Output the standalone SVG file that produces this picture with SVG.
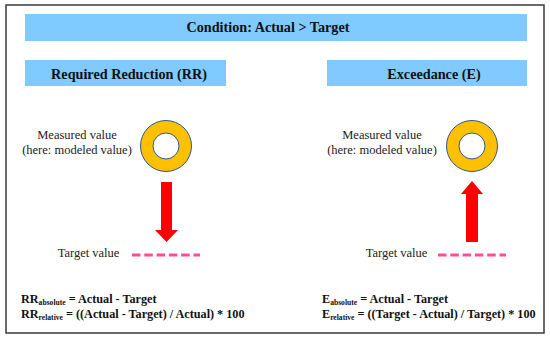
<svg xmlns="http://www.w3.org/2000/svg" width="550" height="339" viewBox="0 0 550 339">
<style>
.bar{fill:#80CAFF}
.ttl{font-family:'Liberation Serif',serif;font-weight:bold;font-size:14.2px;fill:#111;text-anchor:middle}
.lbl{font-family:'Liberation Serif',serif;font-size:12.5px;fill:#222;text-anchor:middle}
.ring{fill:#FFC000;stroke:#2F5A8A;stroke-width:1}
.hole{fill:#fff;stroke:#2F5A8A;stroke-width:1}
.arr{fill:#FF0000}
.dash{stroke:#FF4D94;stroke-width:3;stroke-dasharray:8.5 3.8;fill:none}
.f{font-family:'Liberation Serif',serif;font-weight:bold;font-size:12.2px;fill:#111}
.sub{font-size:7.6px}
</style>
<rect x="0" y="0" width="550" height="339" fill="#fff"/>
<rect x="6" y="5" width="538" height="328" fill="#fff" stroke="#3a3a3a" stroke-width="1.5"/>
<g id="condition">
<rect class="bar" x="25" y="14" width="502" height="27"/>
<text class="ttl" x="268" y="32">Condition: Actual &gt; Target</text>
</g>
<g id="rr-header">
<rect class="bar" x="25" y="60" width="201" height="26"/>
<text class="ttl" x="129" y="78.5">Required Reduction (RR)</text>
</g>
<g id="e-header">
<rect class="bar" x="327" y="60" width="200" height="26"/>
<text class="ttl" x="434" y="78.5">Exceedance (E)</text>
</g>
<g id="rr-measured">
<circle class="ring" cx="166" cy="146" r="25.5"/>
<circle class="hole" cx="166" cy="146" r="13"/>
<text class="lbl" x="77" y="139">Measured value</text>
<text class="lbl" x="77" y="154">(here: modeled value)</text>
</g>
<g id="e-measured">
<circle class="ring" cx="472" cy="146" r="25.5"/>
<circle class="hole" cx="472" cy="146" r="13"/>
<text class="lbl" x="382" y="139">Measured value</text>
<text class="lbl" x="382" y="154">(here: modeled value)</text>
</g>
<g id="rr-target">
<text class="lbl" x="88.5" y="257">Target value</text>
<line class="dash" x1="132" y1="255" x2="200" y2="255"/>
</g>
<g id="e-target">
<text class="lbl" x="396.5" y="257">Target value</text>
<line class="dash" x1="438" y1="255" x2="506" y2="255"/>
</g>
<g id="connectors">
<polygon class="arr" points="161,182 172,182 172,230 178,230 166.5,242 155,230 161,230"/>
<polygon class="arr" points="466,242 478,242 478,194 483,194 472,181 461,194 466,194"/>
</g>
<g id="rr-formulas">
<text class="f" x="21" y="303">RR<tspan class="sub" dy="1.5">absolute</tspan><tspan dy="-1.5"> = Actual - Target</tspan></text>
<text class="f" x="21" y="318">RR<tspan class="sub" dy="1.5">relative</tspan><tspan dy="-1.5"> = ((Actual - Target) / Actual) * 100</tspan></text>
</g>
<g id="e-formulas">
<text class="f" x="322" y="303">E<tspan class="sub" dy="1.5">absolute</tspan><tspan dy="-1.5"> = Actual - Target</tspan></text>
<text class="f" x="322" y="318">E<tspan class="sub" dy="1.5">relative</tspan><tspan dy="-1.5"> = ((Target - Actual) / Target) * 100</tspan></text>
</g>
</svg>
